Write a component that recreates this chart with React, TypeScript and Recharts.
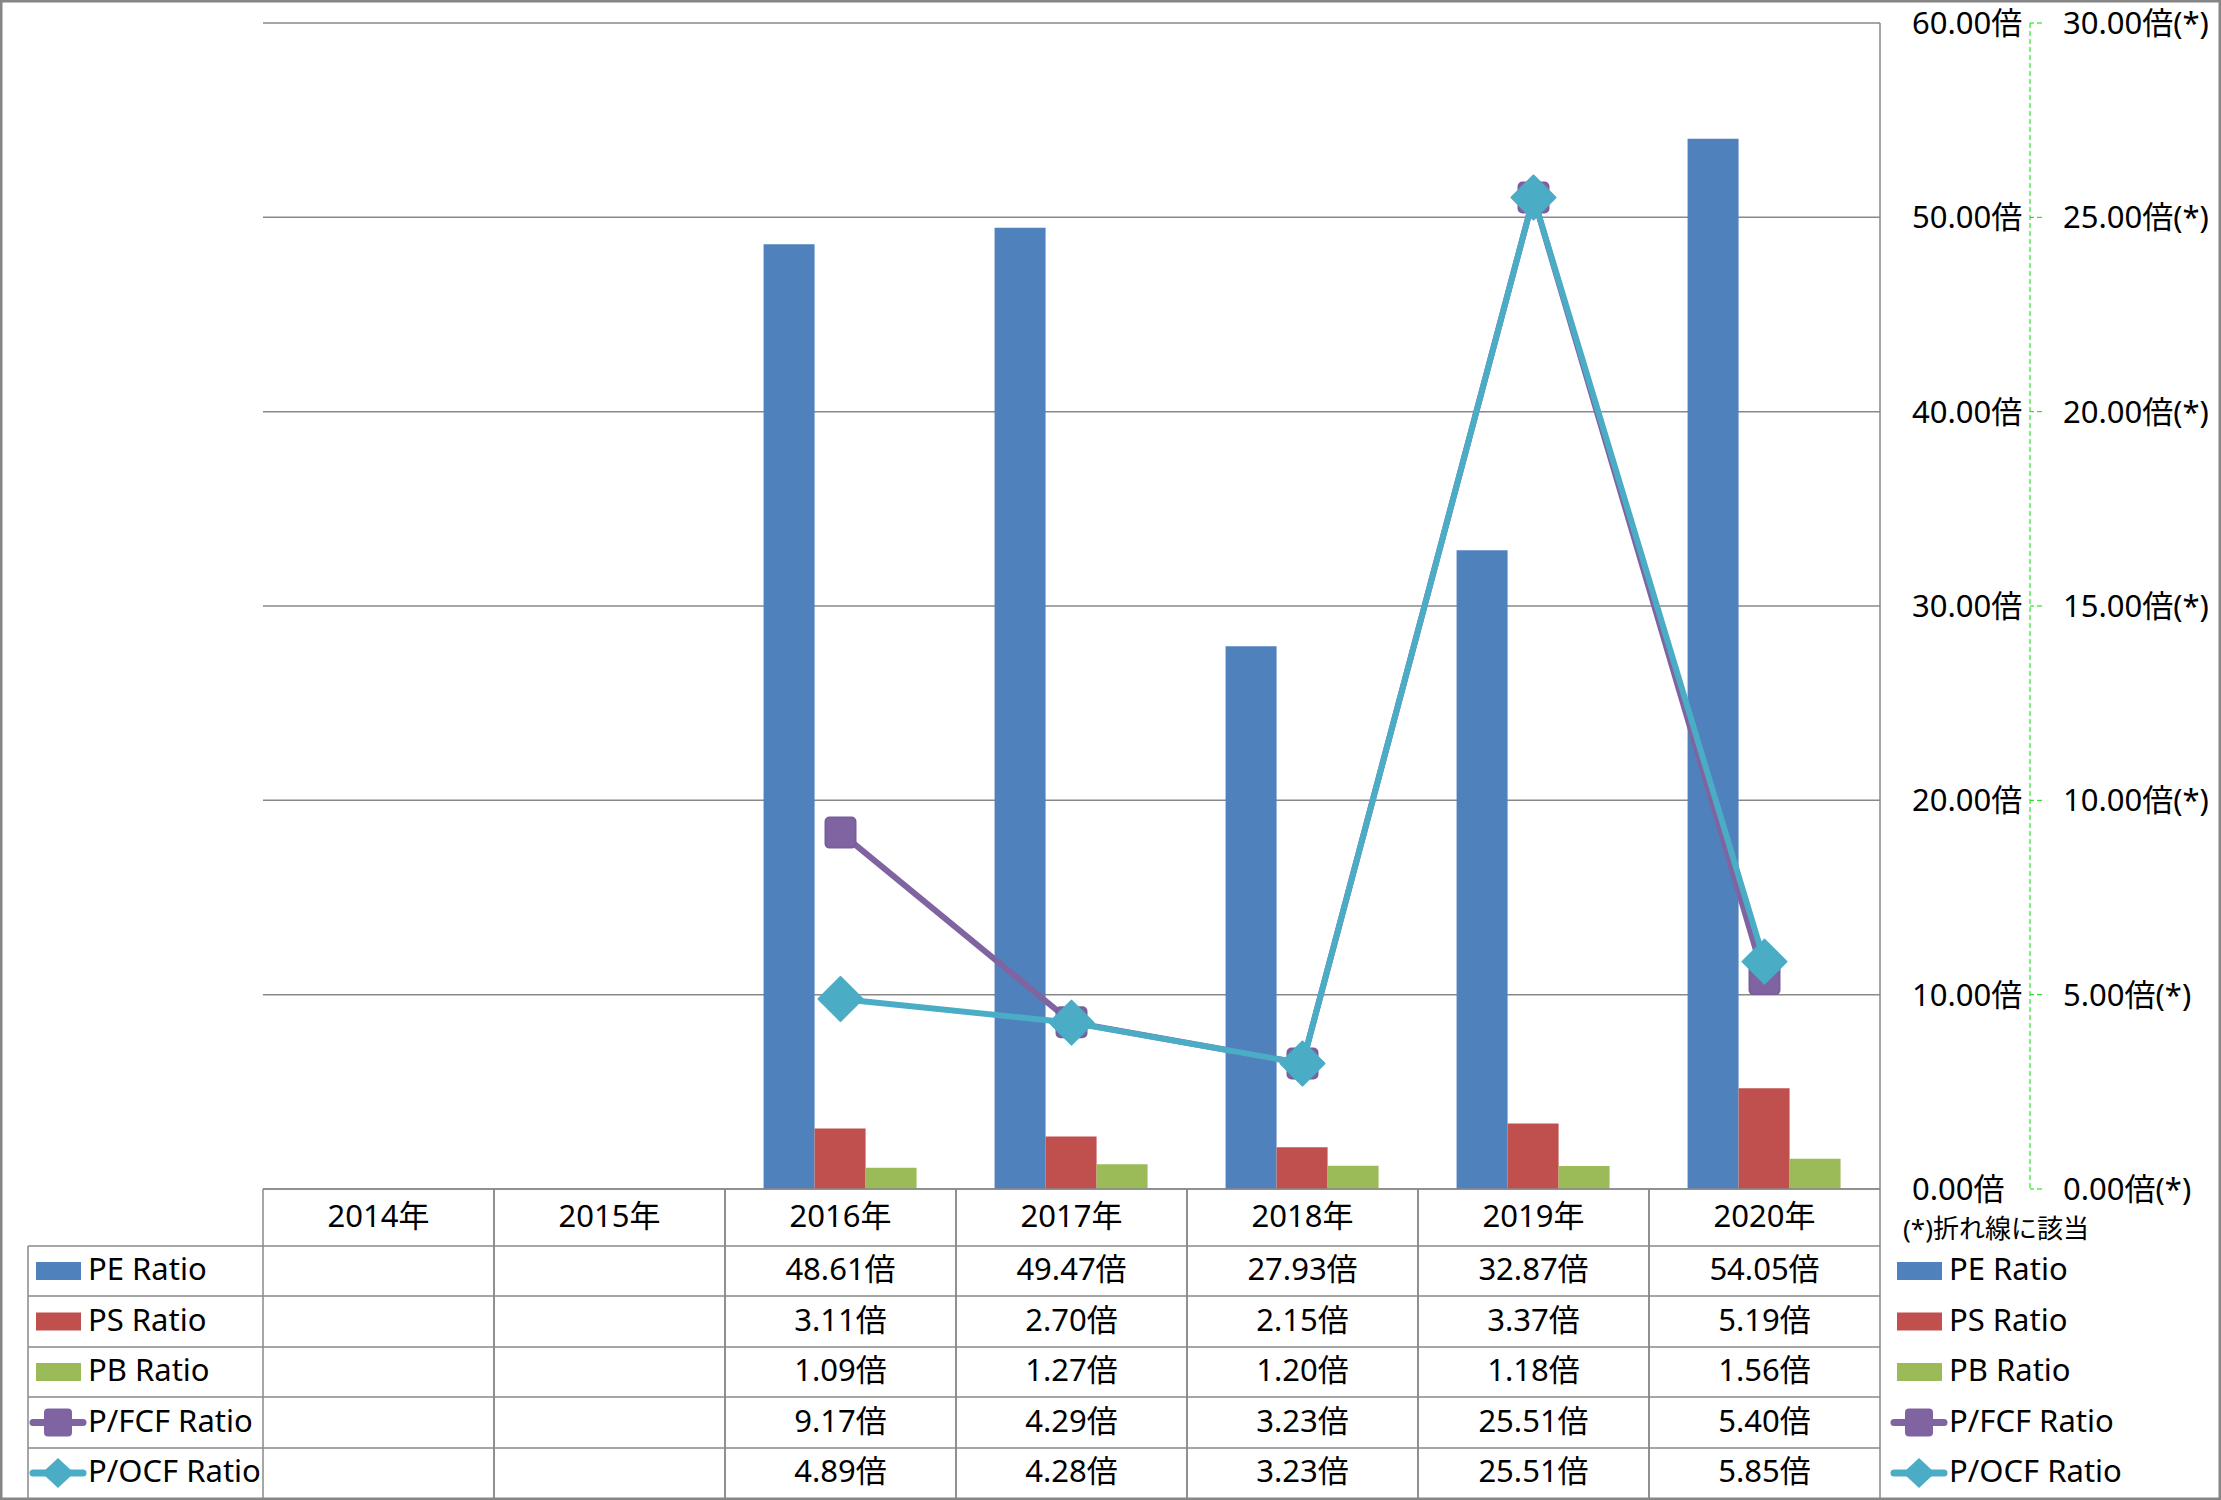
import { Bar, CartesianGrid, ComposedChart, Line, XAxis, YAxis } from 'recharts'

// fiscal years and valuation multiples (倍)
const categories = ['2014年', '2015年', '2016年', '2017年', '2018年', '2019年', '2020年']
const peRatio = [null, null, 48.61, 49.47, 27.93, 32.87, 54.05]
const psRatio = [null, null, 3.11, 2.7, 2.15, 3.37, 5.19]
const pbRatio = [null, null, 1.09, 1.27, 1.2, 1.18, 1.56]
const pfcfRatio = [null, null, 9.17, 4.29, 3.23, 25.51, 5.4]
const pocfRatio = [null, null, 4.89, 4.28, 3.23, 25.51, 5.85]

const leftTicks = [0, 10, 20, 30, 40, 50, 60]
const rightTicks = [0, 5, 10, 15, 20, 25, 30]
const noteText = '(*)折れ線に該当'

const series = [
  { key: 'pe', name: 'PE Ratio', color: '#4F81BD', values: peRatio, kind: 'bar' },
  { key: 'ps', name: 'PS Ratio', color: '#C0504D', values: psRatio, kind: 'bar' },
  { key: 'pb', name: 'PB Ratio', color: '#9BBB59', values: pbRatio, kind: 'bar' },
  { key: 'pfcf', name: 'P/FCF Ratio', color: '#8064A2', values: pfcfRatio, kind: 'square' },
  { key: 'pocf', name: 'P/OCF Ratio', color: '#4BACC6', values: pocfRatio, kind: 'diamond' },
]

const data = categories.map((year, i) => ({
  year,
  pe: peRatio[i],
  ps: psRatio[i],
  pb: pbRatio[i],
  pfcf: pfcfRatio[i],
  pocf: pocfRatio[i],
}))

const W = 2221
const H = 1500
const PLOT_LEFT = 263
const PLOT_RIGHT = 1880
const PLOT_TOP = 23
const PLOT_BOTTOM = 1189
const ROW_LINES = [1246, 1296, 1347, 1397, 1448, 1498]
const COL_W = (PLOT_RIGHT - PLOT_LEFT) / categories.length
const FONT = '"Noto Sans", "Noto Sans CJK JP", sans-serif'
const GRID = '#888888'
const TEXT_NUDGE = -3

const fmt = (v: number | null) => (v == null ? '' : `${v.toFixed(2)}倍`)

function SquareDot(props: any) {
  const { cx, cy } = props
  if (cx == null || cy == null) return <g />
  return <rect x={cx - 15} y={cy - 15} width={30} height={30} rx={4} fill="#8064A2" stroke="#7a5e9c" strokeWidth={2} />
}

function DiamondDot(props: any) {
  const { cx, cy } = props
  if (cx == null || cy == null) return <g />
  const r = 22
  return (
    <polygon
      points={`${cx},${cy - r} ${cx + r},${cy} ${cx},${cy + r} ${cx - r},${cy}`}
      fill="#4BACC6"
      stroke="#4BACC6"
      strokeWidth={2}
      strokeLinejoin="round"
    />
  )
}

function TableTick(props: any) {
  const { x, y, payload } = props
  const idx = categories.indexOf(payload.value)
  const left = x - COL_W / 2
  const right = x + COL_W / 2
  return (
    <g>
      <line x1={left} x2={left} y1={y} y2={H - 2} stroke={GRID} strokeWidth={1.5} />
      <line x1={right} x2={right} y1={y} y2={H - 2} stroke={GRID} strokeWidth={1.5} />
      <text
        x={x}
        y={(y + ROW_LINES[0]) / 2 + TEXT_NUDGE}
        textAnchor="middle"
        dominantBaseline="central"
        fontSize={31}
        fill="#000"
      >
        {payload.value}
      </text>
      {series.map((s, r) => (
        <text
          key={s.key}
          x={x}
          y={(ROW_LINES[r] + ROW_LINES[r + 1]) / 2 + TEXT_NUDGE}
          textAnchor="middle"
          dominantBaseline="central"
          fontSize={31}
          fill="#000"
        >
          {fmt(s.values[idx])}
        </text>
      ))}
    </g>
  )
}

function LegendKey({ s, x, cy }: { s: (typeof series)[number]; x: number; cy: number }) {
  if (s.kind === 'bar') {
    return <rect x={x + 3} y={cy - 9} width={45} height={18} fill={s.color} />
  }
  const mid = x + 25
  return (
    <g>
      <line x1={x} x2={x + 50} y1={cy} y2={cy} stroke={s.color} strokeWidth={7} strokeLinecap="round" />
      {s.kind === 'square' ? (
        <rect x={mid - 14} y={cy - 14} width={28} height={28} rx={4} fill={s.color} />
      ) : (
        <polygon points={`${mid},${cy - 15} ${mid + 16},${cy} ${mid},${cy + 15} ${mid - 16},${cy}`} fill={s.color} />
      )}
    </g>
  )
}

function Overlay() {
  return (
    <svg width={W} height={H} style={{ position: 'absolute', left: 0, top: 0, pointerEvents: 'none' }}>
      <rect x={1.25} y={1.25} width={W - 2.5} height={H - 2.5} fill="none" stroke="#868686" strokeWidth={2.5} />
      {ROW_LINES.slice(0, -1).map((ly) => (
        <line key={ly} x1={28} x2={PLOT_RIGHT} y1={ly} y2={ly} stroke={GRID} strokeWidth={1.5} />
      ))}
      <line x1={28} x2={28} y1={ROW_LINES[0]} y2={H - 2} stroke={GRID} strokeWidth={1.5} />
      <text x={1903} y={1228} fontSize={26} fill="#000" dominantBaseline="central">
        {noteText}
      </text>
      {series.map((s, r) => {
        const cy = (ROW_LINES[r] + ROW_LINES[r + 1]) / 2
        return (
          <g key={s.key}>
            <LegendKey s={s} x={33} cy={cy} />
            <text x={88} y={cy + TEXT_NUDGE} fontSize={31} fill="#000" dominantBaseline="central">
              {s.name}
            </text>
            <LegendKey s={s} x={1894} cy={cy} />
            <text x={1949} y={cy + TEXT_NUDGE} fontSize={31} fill="#000" dominantBaseline="central">
              {s.name}
            </text>
          </g>
        )
      })}
    </svg>
  )
}

export default function App() {
  return (
    <div style={{ position: 'relative', width: W, height: H, fontFamily: FONT, background: '#fff' }}>
      <style>{'body{margin:0}'}</style>
      <ComposedChart
        width={W}
        height={H}
        data={data}
        margin={{ top: PLOT_TOP, right: 0, bottom: 0, left: PLOT_LEFT }}
        barCategoryGap="16.7%"
        barGap={0}
      >
        <CartesianGrid yAxisId="left" vertical={false} stroke={GRID} strokeWidth={1.5} />
        <XAxis
          dataKey="year"
          height={H - PLOT_BOTTOM}
          interval={0}
          tickSize={0}
          tickMargin={0}
          tickLine={false}
          axisLine={{ stroke: GRID, strokeWidth: 1.5 }}
          tick={<TableTick />}
        />
        <YAxis
          yAxisId="left"
          orientation="right"
          width={150}
          domain={[0, 60]}
          ticks={leftTicks}
          tickFormatter={(v: number) => `${v.toFixed(2)}倍`}
          tickSize={0}
          tickMargin={32}
          tickLine={false}
          axisLine={{ stroke: GRID, strokeWidth: 1.5 }}
          tick={{ fontSize: 31, fill: '#000' }}
        />
        <YAxis
          yAxisId="right"
          orientation="right"
          width={191}
          domain={[0, 30]}
          ticks={rightTicks}
          tickFormatter={(v: number) => `${v.toFixed(2)}倍(*)`}
          tickSize={12}
          tickMargin={21}
          tickLine={{ stroke: '#00E000', strokeDasharray: '5 3' }}
          axisLine={{ stroke: '#00E000', strokeDasharray: '5 3' }}
          tick={{ fontSize: 31, fill: '#000' }}
        />
        <Bar yAxisId="left" dataKey="pe" name="PE Ratio" fill="#4F81BD" isAnimationActive={false} />
        <Bar yAxisId="left" dataKey="ps" name="PS Ratio" fill="#C0504D" isAnimationActive={false} />
        <Bar yAxisId="left" dataKey="pb" name="PB Ratio" fill="#9BBB59" isAnimationActive={false} />
        <Line
          yAxisId="right"
          dataKey="pfcf"
          name="P/FCF Ratio"
          stroke="#8064A2"
          strokeWidth={6}
          dot={<SquareDot />}
          activeDot={false}
          isAnimationActive={false}
        />
        <Line
          yAxisId="right"
          dataKey="pocf"
          name="P/OCF Ratio"
          stroke="#4BACC6"
          strokeWidth={6}
          dot={<DiamondDot />}
          activeDot={false}
          isAnimationActive={false}
        />
      </ComposedChart>
      <Overlay />
    </div>
  )
}
